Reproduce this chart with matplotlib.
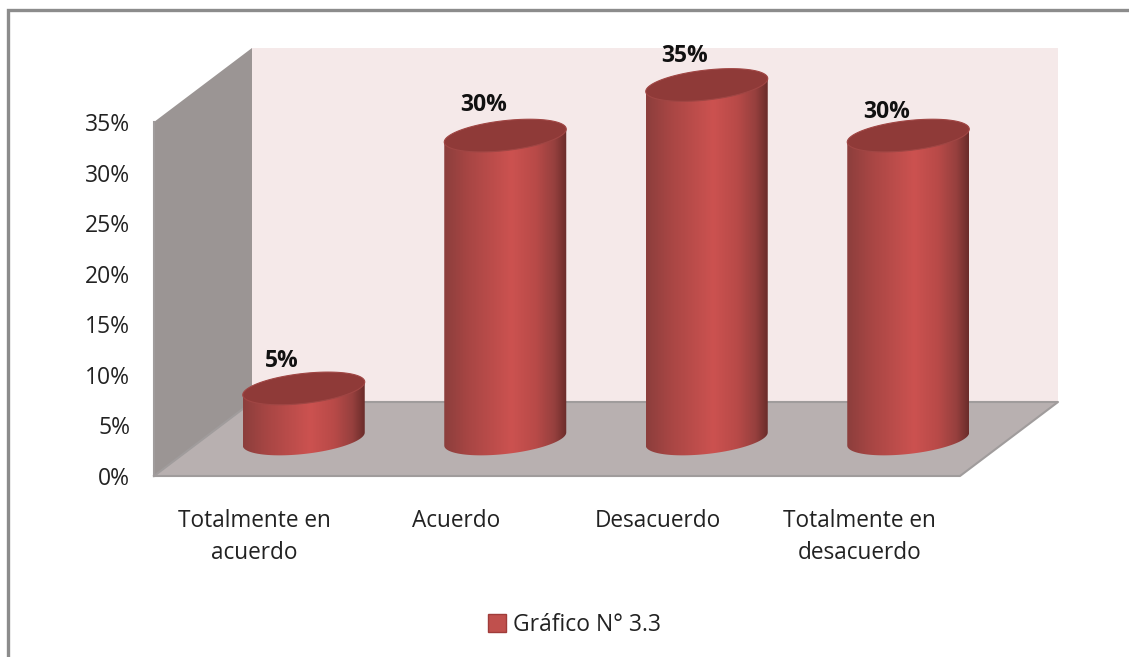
import numpy as np
import matplotlib
matplotlib.use('Agg')
import matplotlib.pyplot as plt
from matplotlib.colors import LinearSegmentedColormap
from matplotlib.patches import Polygon, Rectangle
from matplotlib.lines import Line2D

# data
categorias = ['Totalmente en\nacuerdo', 'Acuerdo', 'Desacuerdo', 'Totalmente en\ndesacuerdo']
valores = [5, 30, 35, 30]
ticks = [0, 5, 10, 15, 20, 25, 30, 35]
serie = 'Gráfico N° 3.3'

W, H = 1129, 657
# pixels of the front plane of the chart
x0, x1 = 154, 960
y0, y35 = 476, 122
dx, dy = 98, -74   # depth of the box, px
label_dy = [27, 31, 29, 24]   # data labels above the top of each cylinder, px

plt.rcParams['font.family'] = ['Open Sans', 'DejaVu Sans']
fig = plt.figure(figsize=(W/100, H/100), dpi=100)
ax = fig.add_axes([0, 0, 1, 1])
ax.axis('off')

# x in category units, y in percent
px_cat = (x1 - x0)/len(categorias)
px_pct = (y0 - y35)/35.
xlim = (-x0/px_cat, (W - x0)/px_cat)
ylim = ((y0 - H)/px_pct, y0/px_pct)
ax.set_xlim(xlim)
ax.set_ylim(ylim)
ux = 1/px_cat
uy = 1/px_pct
DX, DY = dx*ux, -dy*uy
N = len(categorias)
TOP = max(ticks)

# frame, open on the right and at the bottom
ax.plot([(8 - x0)*ux, (8 - x0)*ux, xlim[1]],
        [ylim[0], (y0 - 10)*uy, (y0 - 10)*uy],
        color='#8c8c8c', lw=2.4, solid_joinstyle='miter', zorder=1)

# back wall, side wall, floor
ax.add_patch(Rectangle((DX, DY), N, TOP, fc='#f5e9e9', ec='none', zorder=2))
ax.add_patch(Polygon([(0, 0), (DX, DY), (DX, TOP + DY), (0, TOP)], fc='#9b9594', ec='none', zorder=3))
ax.add_patch(Polygon([(0, 0), (DX, DY), (N + DX, DY), (N, 0)], fc='#b8b0b0', ec='none', zorder=3))
ax.plot([0, DX, N + DX, N, 0], [0, DY, DY, 0, 0], color='#a09c9c', lw=1.5, zorder=4)
ax.plot([0, 0], [0, TOP], color='#a09c9c', lw=1.5, zorder=4)

# cylinders
cm = LinearSegmentedColormap.from_list('cil', [(0, '#8c3e3c'), (0.2, '#a84644'), (0.55, '#cc5250'),
                                               (0.75, '#b84a48'), (0.9, '#96403e'), (1, '#6a2c2a')])
a = 61*ux
b = 15*uy
k = 6.5*uy
t = np.linspace(0, 2*np.pi, 121)
low = t[60:]   # lower half of the ellipse
for i, v in enumerate(valores):
    cx = i + 0.5 + DX/2
    base = DY/2
    ex = cx + a*np.cos(t)
    ey = b*np.sin(t) + k*np.cos(t)
    xl = cx + a*np.cos(low)
    yl = base + b*np.sin(low) + k*np.cos(low)
    body = Polygon(np.r_[np.c_[xl, yl], [[cx + a, base + v + k]], [[cx - a, base + v - k]]],
                   closed=True, fc='none', ec='none', zorder=5)
    ax.add_patch(body)
    im = ax.imshow(np.linspace(0, 1, 256)[None, :], cmap=cm, aspect='auto',
                   extent=[cx - a, cx + a, base - 2*b - k, base + v + b + k], zorder=5)
    im.set_clip_path(body)
    ax.add_patch(Polygon(np.c_[ex, base + v + ey], fc='#8f3a38', ec='#a04644', lw=0.8, zorder=6))
    ax.text(cx - 22*ux, base + v + label_dy[i]*uy, '%d%%' % v, ha='center', va='center', fontsize=16.5,
            fontweight='bold', color='#111111', zorder=7)
    ax.text(i + 0.5, -33*uy, categorias[i], ha='center', va='top', fontsize=16.3,
            color='#222222', linespacing=1.47, zorder=7)

ax.set_xlim(xlim)
ax.set_ylim(ylim)

# y tick labels
for v in ticks:
    ax.text(-24*ux, v - 3*uy, '%d%%' % v, ha='right', va='center', fontsize=16.5, color='#222222', zorder=7)

# legend
h = Line2D([], [], marker='s', ls='none', ms=12.5, mfc='#c0504d', mec='#a03c3a', mew=1)
fig.legend([h], [serie], loc='center', bbox_to_anchor=(567.5/W, 1 - 625/H), frameon=False,
           fontsize=16.5, handletextpad=-0.3, labelcolor='#222222')

fig.savefig('out.png', dpi=100)
